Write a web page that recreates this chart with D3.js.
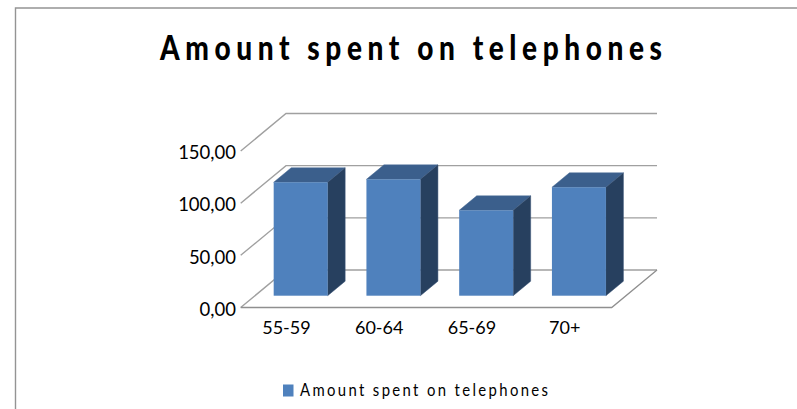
<!DOCTYPE html>
<html><head><meta charset="utf-8">
<script src="https://cdn.jsdelivr.net/npm/d3@7/dist/d3.min.js"></script>
<style>html,body{margin:0;padding:0;background:#fff}svg{display:block}text{font-family:"Lato",sans-serif;fill:#000}</style>
</head><body><svg id="c" width="797" height="409"></svg>
<script>
const categories = ["55-59","60-64","65-69","70+"];
const values = [108.7,111.5,81.8,103.9];
const ticks = [0,50,100,150];
const seriesName = "Amount spent on telephones";
const titleText = "Amount spent on telephones";

const svg = d3.select("#c");
const W = {dx:45.3, dy:-37.5};
const B = {dx:17.5, dy:-14.5};
const G = {dx:13.6, dy:-11.8};
const y = d3.scaleLinear().domain([0,150]).range([307.5,151]);
const x = d3.scaleBand().domain(categories).range([240.7,611.7]).paddingInner(0.418).paddingOuter(0.209);
const fmt = v => d3.format(".2f")(v).replace(".",",");

svg.append("path").attr("d","M15.5,409V8H797").attr("fill","none").attr("stroke","#949494").attr("stroke-width",1.4);

svg.append("text").attr("transform","translate(160,59.5) scale(.8,1)").attr("font-size",35).attr("font-weight",900)
  .attr("textLength",502/.8).attr("lengthAdjust","spacing").text(titleText);

const gx0 = x.range()[0], gx1 = x.range()[1];
const grid = svg.append("g").attr("fill","none");
grid.selectAll("path.wall").data(ticks).join("path").attr("class","wall")
  .attr("d",t => `M${gx0},${y(t)}L${gx0+W.dx},${y(t)+W.dy}L${gx1+W.dx},${y(t)+W.dy}`)
  .attr("stroke","#a0a0a0").attr("stroke-width",1.4);
grid.append("path")
  .attr("d",`M${gx0},${y(0)}L${gx1},${y(0)}L${gx1+W.dx},${y(0)+W.dy}`)
  .attr("stroke","#8f8f8f").attr("stroke-width",1.3);

svg.selectAll("text.yl").data(ticks).join("text").attr("class","yl")
  .attr("x",236).attr("y",t=>y(t)+8.3).attr("text-anchor","end").attr("font-size",18.5).text(fmt);
svg.selectAll("text.xl").data(categories).join("text").attr("class","xl")
  .attr("x",c=>x(c)+x.bandwidth()/2-0.6).attr("y",333.5).attr("text-anchor","middle").attr("font-size",18).text(c=>c);

const h = v => y(0)-y(v);
const bars = svg.selectAll("g.bar").data(categories.map((c,i)=>({c,v:values[i]}))).join("g").attr("class","bar");
const bx = d => x(d.c)+G.dx, by = d => y(0)+G.dy, bw = x.bandwidth();
bars.append("path").attr("fill","#3b5f8c").attr("stroke","#4a6c97").attr("stroke-width",.5)
  .attr("d",d=>`M${bx(d)},${by(d)-h(d.v)}l${B.dx},${B.dy}h${bw}l${-B.dx},${-B.dy}z`);
bars.append("path").attr("fill","#27405f").attr("stroke","#3a5578").attr("stroke-width",.5)
  .attr("d",d=>`M${bx(d)+bw},${by(d)-h(d.v)}l${B.dx},${B.dy}v${h(d.v)}l${-B.dx},${-B.dy}z`);
bars.append("rect").attr("fill","#4f81bd")
  .attr("x",bx).attr("y",d=>by(d)-h(d.v)).attr("width",bw).attr("height",d=>h(d.v));

svg.append("rect").attr("x",283).attr("y",384.5).attr("width",10.5).attr("height",12).attr("fill","#4f81bd");
svg.append("text").attr("transform","translate(300,396) scale(.85,1)").attr("font-size",17.5).attr("textLength",248/.85).attr("lengthAdjust","spacing").text(seriesName);
</script></body></html>
